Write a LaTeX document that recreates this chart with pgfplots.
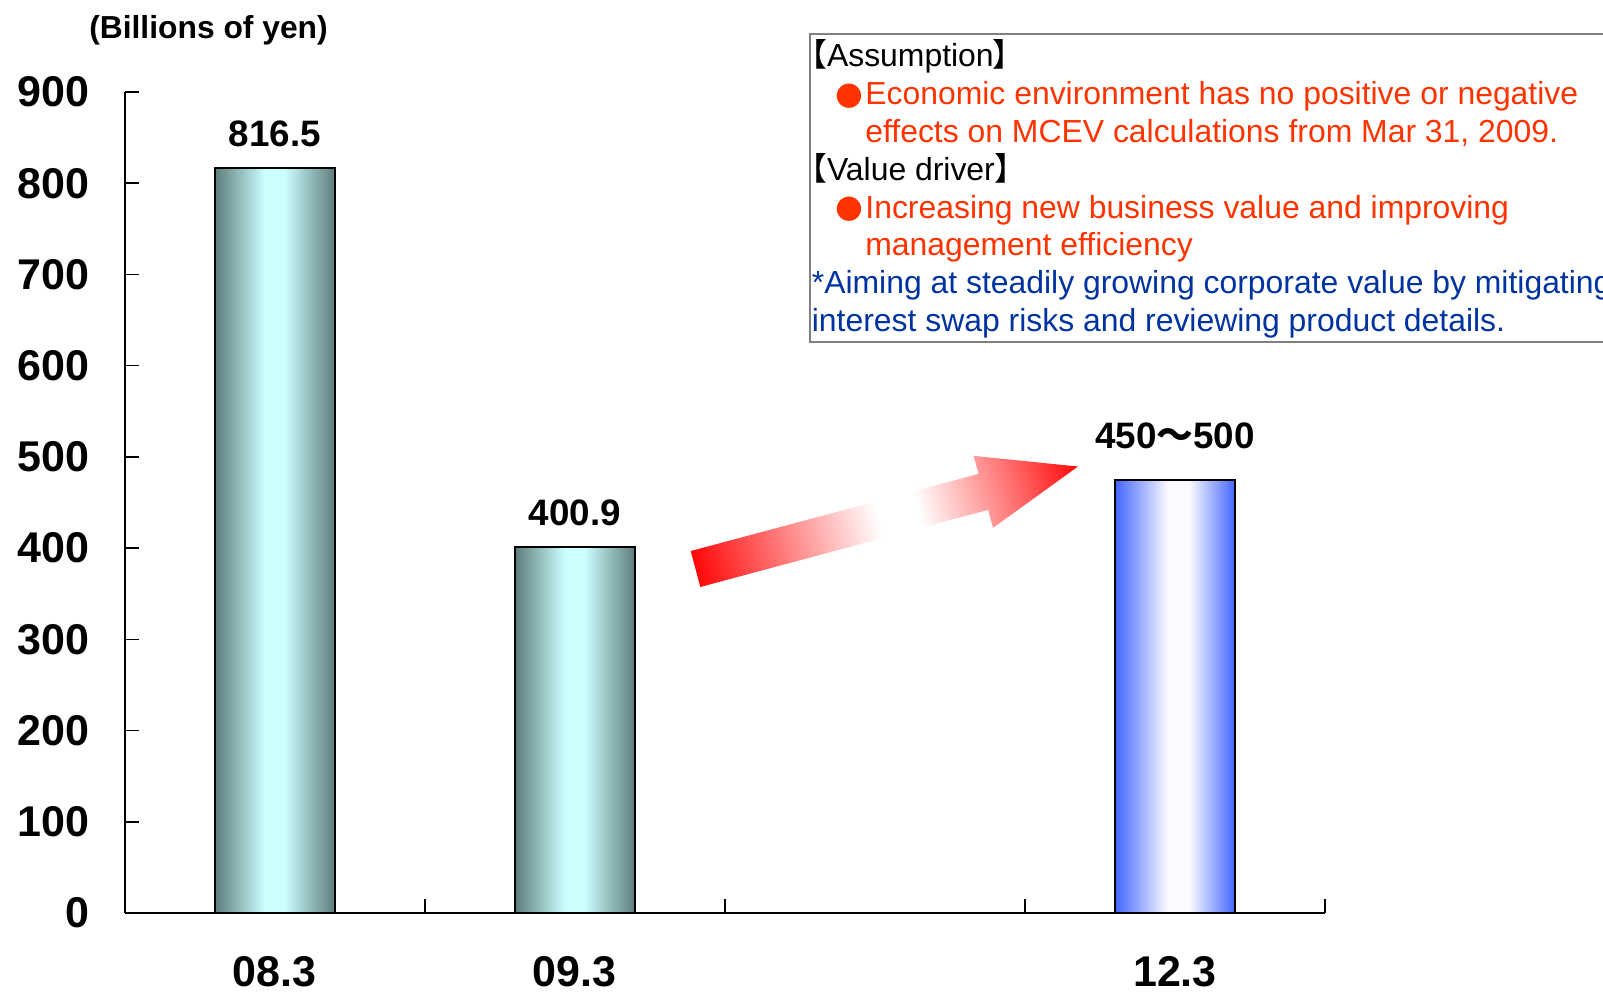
\documentclass[border=0pt]{standalone}
\usepackage{fontspec}
\setmainfont{Liberation Sans}
\newfontfamily\cjk{Noto Sans CJK JP}[RawFeature=+palt]
\newfontfamily\sym{DejaVu Sans}
\usepackage{pgfplots}
\pgfplotsset{compat=1.18}

\definecolor{tealedge}{RGB}{94,125,125}
\definecolor{tealmid}{RGB}{204,255,255}
\definecolor{blueedge}{RGB}{68,102,255}
\definecolor{bluemid}{RGB}{250,250,255}
\definecolor{notered}{RGB}{255,51,0}
\definecolor{noteblue}{RGB}{0,51,160}
\definecolor{boxgray}{RGB}{128,128,128}
\definecolor{arrowred}{RGB}{255,8,8}

% left-to-right gradients; the shaded path spans 25bp..75bp
\pgfdeclarehorizontalshading{tealbar}{100bp}{color(0bp)=(tealedge); color(25bp)=(tealedge);
  color(46bp)=(tealmid); color(54bp)=(tealmid); color(75bp)=(tealedge); color(100bp)=(tealedge)}
\pgfdeclarehorizontalshading{bluebar}{100bp}{color(0bp)=(blueedge); color(25bp)=(blueedge);
  color(47bp)=(bluemid); color(56bp)=(bluemid); color(75bp)=(blueedge); color(100bp)=(blueedge)}
\pgfdeclarehorizontalshading{arrowfade}{100bp}{color(0bp)=(arrowred); color(25bp)=(arrowred);
  color(49bp)=(white); color(54bp)=(white); color(75bp)=(arrowred); color(100bp)=(arrowred)}

\newcommand\ticksize{\fontsize{21.5}{25}\selectfont}
\newcommand\valsize{\fontsize{18.4}{22}\selectfont}
\newcommand\unitsize{\fontsize{15.9}{19}\selectfont}
\newcommand\notesize{\fontsize{15.95}{19}\selectfont}

\begin{document}
\begin{tikzpicture}
\path[use as bounding box] (0pt,0pt) rectangle (801.5pt,-497pt);
\clip (0pt,0pt) rectangle (801.5pt,-497pt);

\begin{axis}[
  at={(62.35pt,-456.5pt)}, anchor=south west,
  scale only axis, width=600.15pt, height=410.5pt,
  xmin=-0.5, xmax=3.5, ymin=0, ymax=900,
  axis x line*=bottom, axis y line*=left,
  axis line style={-, line width=1pt, black},
  tick align=inside,
  tick style={line width=0.75pt, black},
  major tick length=7pt, minor tick length=7pt,
  ytick={0,100,...,900},
  xtick={0,1,3}, xticklabels={08.3,09.3,12.3},
  minor xtick={0.5,1.5,2.5,3.5},
  major x tick style={draw=none},
  /pgf/number format/assume math mode=true,
  ticklabel style={font=\bfseries\ticksize},
  yticklabel style={inner sep=0pt, anchor=east, xshift=-17.5pt},
  xticklabel style={inner sep=0pt, anchor=north, yshift=-21.5pt},
  clip=false,
  nodes near coords,
  nodes near coords style={font=\bfseries\valsize, text=black, inner sep=0pt, anchor=south, yshift=10.3pt},
  every axis plot/.append style={ybar, bar width=59.8pt, bar shift=0pt, draw=black, line width=1pt},
]
% actual values: Mar 2008, Mar 2009
\addplot[shade, shading=tealbar] coordinates {(0,816.5)};
\addplot[shade, shading=tealbar] coordinates {(1,400.9)};
% target range 450-500, drawn at its midpoint
\addplot[shade, shading=bluebar,
  nodes near coords={450{\cjk\bfseries ～}500},
  nodes near coords style={yshift=4.6pt}]
  coordinates {(3,475)};
\end{axis}

\begin{scope}[x=0.5pt, y=-0.5pt]
  \node[font=\bfseries\unitsize, inner sep=0pt] at (208.5,30.5) {(Billions of yen)};

  % growth arrow, built along its own axis and tilted by 15 degrees
  \begin{scope}[transform canvas={rotate around={15:(695.5,569)}}]
    \shade[shading=arrowfade]
      (695.5,550.4) -- (993.5,550.4) -- (993.5,531.7) -- (1091.4,569)
      -- (993.5,606.3) -- (993.5,587.6) -- (695.5,587.6) -- cycle;
  \end{scope}

  % notes box
  \draw[boxgray, line width=1pt] (809.7,33.7) rectangle (1650,342.5);
  \begin{scope}[every node/.style={anchor=base west, inner sep=0pt, font=\notesize}]
    \node at (810.7,67) {{\cjk 【}Assumption{\cjk 】}};
    \node[notered] at (865,105) {Economic environment has no positive or negative};
    \node[notered] at (865,142.5) {effects on MCEV calculations from Mar 31, 2009.};
    \node at (810.7,180.5) {{\cjk 【}Value driver{\cjk 】}};
    \node[notered] at (865,218.3) {Increasing new business value and improving};
    \node[notered] at (865,256) {management efficiency};
    \node[noteblue] at (811.5,293.5) {*Aiming at steadily growing corporate value by mitigating};
    \node[noteblue] at (811.5,331.5) {interest swap risks and reviewing product details.};
  \end{scope}
  \node[notered, inner sep=0pt, font=\sym\notesize] at (849,96) {●};
  \node[notered, inner sep=0pt, font=\sym\notesize] at (849,209.5) {●};
\end{scope}
\end{tikzpicture}
\end{document}
